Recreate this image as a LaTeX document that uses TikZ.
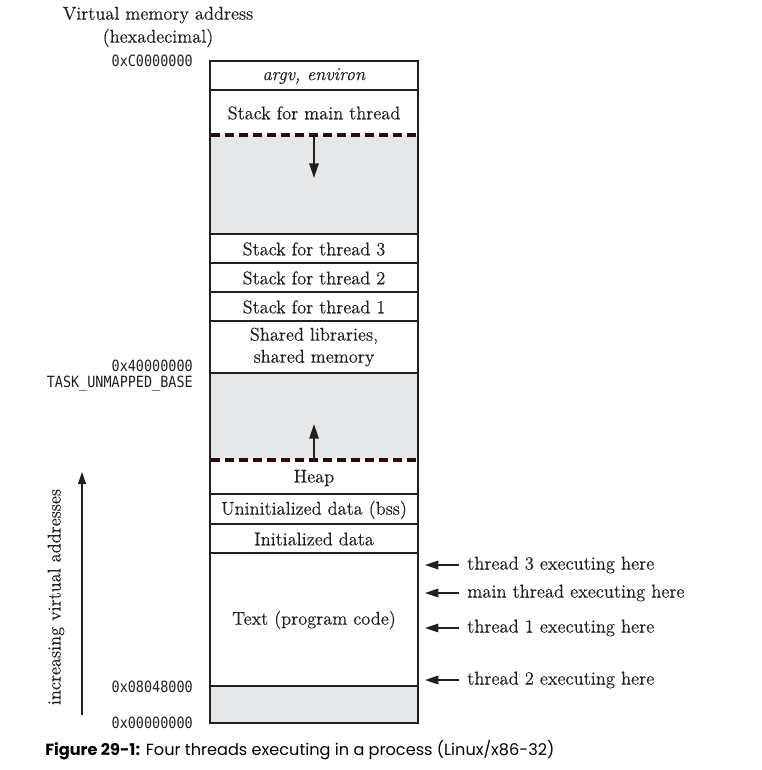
\documentclass[tikz,border=0pt]{standalone}
\usepackage{fontspec}
\setmainfont{Latin Modern Roman}[FakeBold=0.35]
\newfontfamily\addrfont{DejaVu Sans Mono}
\newfontfamily\capfont{Poppins}
\usetikzlibrary{arrows.meta}
\definecolor{fillgray}{HTML}{E6E7E8}
\definecolor{ink}{HTML}{231F20}
\definecolor{dashred}{HTML}{2E0A0B}
\begin{document}
\begin{tikzpicture}[x=0.75pt,y=-0.75pt,
  lbl/.style={font=\fontsize{13.8}{16.5}\selectfont, text=ink, inner sep=0pt, align=center},
  addr/.style={font=\addrfont\fontsize{10.1}{12}\selectfont, text=ink, inner sep=0pt, anchor=east},
  rlbl/.style={font=\fontsize{13.9}{16.5}\selectfont, text=ink, inner xsep=6pt, inner ysep=0pt, anchor=west},
  seg/.style={draw=ink, line width=1.9pt},
  gapfill/.style={fill=fillgray},
  dashln/.style={draw=dashred, line width=2.3pt, dash pattern=on 6.5pt off 4pt},
  growarr/.style={draw=ink, line width=1.6pt, -{Triangle[length=11pt,width=7pt]}},
  ptrarr/.style={draw=ink, line width=0.9pt, -{Triangle[length=10pt,width=6.5pt]}},
  axisarr/.style={draw=ink, line width=0.8pt, -{Triangle[length=9pt,width=6pt]}}
]
\useasboundingbox (0,0) rectangle (761,770);
% gray regions
\fill[gapfill] (210,135) rectangle (418,234);
\fill[gapfill] (210,373) rectangle (418,460);
\fill[gapfill] (210,686) rectangle (418,723);
% solid separators
\foreach \yy in {90,234,263,292,321,373,494,524,553,686}
  \draw[seg] (210,\yy) -- (418,\yy);
% dashed separators
\draw[dashln] (211,135) -- (417,135);
\draw[dashln] (211,460) -- (417,460);
% outer box
\draw[seg] (210,61) rectangle (418,723);

% segment labels
\node[lbl] (argv) at (314,76) {\textit{argv, environ}};
\node[lbl] (mainst) at (314,113) {Stack for main thread};
\node[lbl] (st3) at (314,249) {Stack for thread 3};
\node[lbl] (st2) at (314,278) {Stack for thread 2};
\node[lbl] (st1) at (314,307) {Stack for thread 1};
\node[lbl] (shlib) at (314,347) {Shared libraries,\\shared memory};
\node[lbl] (heap) at (314,478) {Heap};
\node[lbl] (bss) at (314,510) {Uninitialized data (bss)};
\node[lbl] (init) at (314,539) {Initialized data};
\node[lbl] (text) at (314,620) {Text (program code)};

% growth arrows
\coordinate (sdown0) at (314,135);
\coordinate (sdown1) at (314,178);
\coordinate (hup0) at (314,460);
\coordinate (hup1) at (314,424);
\draw[growarr] (sdown0) -- (sdown1);
\draw[growarr] (hup0) -- (hup1);

% heading
\node[lbl, font=\fontsize{13.8}{17.25}\selectfont] (head) at (158,27) {Virtual memory address\\(hexadecimal)};

% addresses
\node[addr] (aC) at (193,61) {\scalebox{1}[1.15]{0xC0000000}};
\node[addr] (a4) at (193,366) {\scalebox{1}[1.15]{0x40000000}};
\node[addr] (tub) at (193,384) {\scalebox{1}[1.15]{TASK\_UNMAPPED\_BASE}};
\node[addr] (a08) at (193,687) {\scalebox{1}[1.15]{0x08048000}};
\node[addr] (a00) at (193,723) {\scalebox{1}[1.15]{0x00000000}};

% thread pointers
\node[rlbl] (th3) at (459,565) {thread 3 executing here};
\node[rlbl] (thm) at (459,593) {main thread executing here};
\node[rlbl] (th1) at (459,628) {thread 1 executing here};
\node[rlbl] (th2) at (459,680) {thread 2 executing here};
\coordinate (p3) at (425,565);
\coordinate (pm) at (425,593);
\coordinate (p1) at (425,628);
\coordinate (p2) at (425,680);
\draw[ptrarr] (th3.west) -- (p3);
\draw[ptrarr] (thm.west) -- (pm);
\draw[ptrarr] (th1.west) -- (p1);
\draw[ptrarr] (th2.west) -- (p2);

% axis arrow
\coordinate (ax0) at (82,715);
\coordinate (ax1) at (82,472);
\draw[axisarr] (ax0) -- (ax1);
\node[lbl, rotate=90] (axlbl) at (56,597) {increasing virtual addresses};

% caption
\node[font=\capfont\fontsize{12.1}{15}\selectfont, text=black, inner sep=0pt, anchor=west] (cap) at (45,750) {\textbf{Figure 29-1:} Four threads executing in a process (Linux/x86-32)};
\end{tikzpicture}
\end{document}
